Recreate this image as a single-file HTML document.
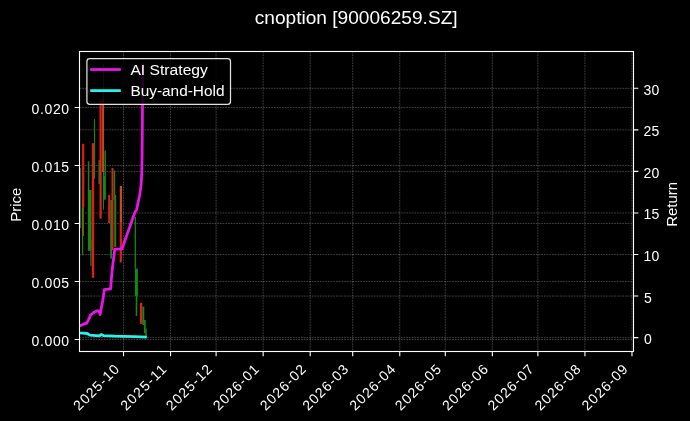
<!DOCTYPE html><html><head><meta charset="utf-8"><title>cnoption [90006259.SZ]</title><style>
html,body{margin:0;padding:0;background:#000;}
body{width:690px;height:421px;overflow:hidden;}
svg{display:block;will-change:transform;}
text{font-family:"Liberation Sans",sans-serif;fill:#fff;}
</style></head><body>
<svg width="690" height="421" viewBox="0 0 690 421">
<rect x="0" y="0" width="690" height="421" fill="#000"/>
<text x="356.2" y="23.7" font-size="17.8" text-anchor="middle" textLength="202.9" lengthAdjust="spacingAndGlyphs">cnoption [90006259.SZ]</text>
<path d="M123.52 51.50V351.50M170.57 51.50V351.50M216.10 51.50V351.50M263.15 51.50V351.50M310.21 51.50V351.50M352.70 51.50V351.50M399.76 51.50V351.50M445.29 51.50V351.50M492.34 51.50V351.50M537.88 51.50V351.50M584.93 51.50V351.50M631.98 51.50V351.50M79.50 339.50H633.50M79.50 281.50H633.50M79.50 223.50H633.50M79.50 165.50H633.50M79.50 107.50H633.50M79.50 337.60H633.50M79.50 296.05H633.50M79.50 254.50H633.50M79.50 212.95H633.50M79.50 171.40H633.50M79.50 129.85H633.50M79.50 88.30H633.50" fill="none" stroke="#fff" stroke-opacity="0.3" stroke-width="0.8" stroke-dasharray="1.8 0.9"/>
<rect x="80.05" y="168.00" width="1.10" height="60.00" fill="#127012"/>
<rect x="82.00" y="200.00" width="1.20" height="55.30" fill="#168716"/>
<rect x="82.10" y="143.80" width="2.20" height="63.90" fill="#e01c1c"/>
<rect x="82.20" y="207.70" width="1.60" height="28.30" fill="#7a6a14"/>
<rect x="87.85" y="161.40" width="1.50" height="38.60" fill="#168716"/>
<rect x="87.90" y="190.00" width="3.60" height="60.80" fill="#168716"/>
<rect x="90.30" y="240.00" width="1.20" height="26.20" fill="#168716"/>
<rect x="91.80" y="143.20" width="2.40" height="134.60" fill="#e01c1c"/>
<rect x="93.95" y="119.10" width="1.10" height="59.70" fill="#168716"/>
<rect x="98.45" y="160.20" width="1.50" height="23.80" fill="#168716"/>
<rect x="102.95" y="64.00" width="1.10" height="145.70" fill="#168716"/>
<rect x="99.50" y="99.00" width="2.20" height="119.60" fill="#e01c1c"/>
<rect x="102.10" y="99.00" width="1.80" height="73.00" fill="#c84a1c"/>
<rect x="104.45" y="150.50" width="1.50" height="25.50" fill="#168716"/>
<rect x="102.90" y="176.00" width="3.00" height="23.70" fill="#168716"/>
<rect x="108.20" y="195.00" width="1.80" height="28.00" fill="#e01c1c"/>
<rect x="110.20" y="200.00" width="1.80" height="58.50" fill="#168716"/>
<rect x="111.50" y="168.00" width="2.00" height="82.00" fill="#e01c1c"/>
<rect x="113.65" y="170.50" width="1.50" height="29.50" fill="#168716"/>
<rect x="114.20" y="195.00" width="2.00" height="52.00" fill="#168716"/>
<rect x="119.80" y="185.90" width="2.20" height="36.10" fill="#c84a1c"/>
<rect x="119.70" y="222.00" width="2.20" height="40.40" fill="#e01c1c"/>
<rect x="134.65" y="217.00" width="1.30" height="51.60" fill="#168716"/>
<rect x="134.90" y="268.60" width="3.00" height="27.40" fill="#168716"/>
<rect x="135.70" y="296.00" width="1.60" height="20.00" fill="#168716"/>
<rect x="139.90" y="302.80" width="2.40" height="21.10" fill="#e01c1c"/>
<rect x="142.30" y="306.60" width="2.00" height="18.40" fill="#168716"/>
<rect x="143.90" y="320.00" width="1.80" height="13.00" fill="#168716"/>
<rect x="145.25" y="328.50" width="1.50" height="8.00" fill="#168716"/>
<g clip-path="url(#axclip)">
<polyline points="79.50,332.80 80.00,332.90 87.30,333.50 89.90,335.10 99.50,335.80 101.10,334.50 103.40,335.60 115.20,336.20 123.20,336.40 135.00,336.70 145.50,337.00" fill="none" stroke="#28f0ea" stroke-width="2.78" stroke-linejoin="round" stroke-linecap="square"/>
<polyline points="79.50,326.00 80.30,325.70 82.80,324.40 86.70,323.10 88.60,319.60 90.50,315.10 93.70,312.50 97.60,310.60 98.90,311.30 100.20,314.50 101.10,309.30 102.70,301.00 104.30,289.60 110.60,288.90 111.60,276.00 112.60,266.50 114.80,249.10 122.00,248.80 134.60,213.10 136.70,209.30 138.00,202.80 139.80,194.50 141.10,185.00 141.50,178.00 141.80,170.00 142.10,155.00 142.50,105.00 142.80,65.00" fill="none" stroke="#e814e8" stroke-width="2.78" stroke-linejoin="round" stroke-linecap="square"/>
</g>
<defs><clipPath id="axclip"><rect x="79.50" y="51.50" width="554.00" height="300.00"/></clipPath></defs>
<rect x="79.50" y="51.50" width="554.00" height="300.00" fill="none" stroke="#fff" stroke-width="1.11"/>
<path d="M123.52 351.50V356.36M170.57 351.50V356.36M216.10 351.50V356.36M263.15 351.50V356.36M310.21 351.50V356.36M352.70 351.50V356.36M399.76 351.50V356.36M445.29 351.50V356.36M492.34 351.50V356.36M537.88 351.50V356.36M584.93 351.50V356.36M631.98 351.50V356.36M74.64 339.50H79.50M74.64 281.50H79.50M74.64 223.50H79.50M74.64 165.50H79.50M74.64 107.50H79.50M633.50 337.60H638.36M633.50 296.05H638.36M633.50 254.50H638.36M633.50 212.95H638.36M633.50 171.40H638.36M633.50 129.85H638.36M633.50 88.30H638.36" fill="none" stroke="#fff" stroke-width="1.11"/>
<text x="69.1" y="345.95" font-size="14.0" text-anchor="end" textLength="37.56" lengthAdjust="spacing">0.000</text>
<text x="69.1" y="287.95" font-size="14.0" text-anchor="end" textLength="37.56" lengthAdjust="spacing">0.005</text>
<text x="69.1" y="229.95" font-size="14.0" text-anchor="end" textLength="37.56" lengthAdjust="spacing">0.010</text>
<text x="69.1" y="171.95" font-size="14.0" text-anchor="end" textLength="37.56" lengthAdjust="spacing">0.015</text>
<text x="69.1" y="113.95" font-size="14.0" text-anchor="end" textLength="37.56" lengthAdjust="spacing">0.020</text>
<text x="644.0" y="344.05" font-size="14.0">0</text>
<text x="644.0" y="302.50" font-size="14.0">5</text>
<text x="643.5" y="260.95" font-size="14.0" textLength="15.87" lengthAdjust="spacing">10</text>
<text x="643.5" y="219.40" font-size="14.0" textLength="15.87" lengthAdjust="spacing">15</text>
<text x="643.5" y="177.85" font-size="14.0" textLength="15.87" lengthAdjust="spacing">20</text>
<text x="643.5" y="136.30" font-size="14.0" textLength="15.87" lengthAdjust="spacing">25</text>
<text x="643.5" y="94.75" font-size="14.0" textLength="15.87" lengthAdjust="spacing">30</text>
<text transform="translate(120.12 370.3) rotate(-45)" font-size="14.0" text-anchor="end" textLength="58.03" lengthAdjust="spacing">2025-10</text>
<text transform="translate(167.17 370.3) rotate(-45)" font-size="14.0" text-anchor="end" textLength="58.03" lengthAdjust="spacing">2025-11</text>
<text transform="translate(212.70 370.3) rotate(-45)" font-size="14.0" text-anchor="end" textLength="58.03" lengthAdjust="spacing">2025-12</text>
<text transform="translate(259.75 370.3) rotate(-45)" font-size="14.0" text-anchor="end" textLength="58.03" lengthAdjust="spacing">2026-01</text>
<text transform="translate(306.81 370.3) rotate(-45)" font-size="14.0" text-anchor="end" textLength="58.03" lengthAdjust="spacing">2026-02</text>
<text transform="translate(349.30 370.3) rotate(-45)" font-size="14.0" text-anchor="end" textLength="58.03" lengthAdjust="spacing">2026-03</text>
<text transform="translate(396.36 370.3) rotate(-45)" font-size="14.0" text-anchor="end" textLength="58.03" lengthAdjust="spacing">2026-04</text>
<text transform="translate(441.89 370.3) rotate(-45)" font-size="14.0" text-anchor="end" textLength="58.03" lengthAdjust="spacing">2026-05</text>
<text transform="translate(488.94 370.3) rotate(-45)" font-size="14.0" text-anchor="end" textLength="58.03" lengthAdjust="spacing">2026-06</text>
<text transform="translate(534.48 370.3) rotate(-45)" font-size="14.0" text-anchor="end" textLength="58.03" lengthAdjust="spacing">2026-07</text>
<text transform="translate(581.53 370.3) rotate(-45)" font-size="14.0" text-anchor="end" textLength="58.03" lengthAdjust="spacing">2026-08</text>
<text transform="translate(628.58 370.3) rotate(-45)" font-size="14.0" text-anchor="end" textLength="58.03" lengthAdjust="spacing">2026-09</text>
<text transform="translate(20.7 204.7) rotate(-90)" font-size="13.889" text-anchor="middle" textLength="33.9" lengthAdjust="spacingAndGlyphs">Price</text>
<text transform="translate(676.9 204.3) rotate(-90)" font-size="13.889" text-anchor="middle" textLength="45.0" lengthAdjust="spacingAndGlyphs">Return</text>
<rect x="86.9" y="58.7" width="143.6" height="45.6" rx="2.78" ry="2.78" fill="#000" fill-opacity="0.85" stroke="#e0e0e0" stroke-opacity="1" stroke-width="1.25"/>
<path d="M91.6 69.5H119.4" stroke="#e814e8" stroke-width="2.78" stroke-linecap="square"/>
<path d="M91.6 90.6H119.4" stroke="#28f0ea" stroke-width="2.78" stroke-linecap="square"/>
<text x="130.4" y="75.2" font-size="13.889" textLength="77.5" lengthAdjust="spacingAndGlyphs">AI Strategy</text>
<text x="130.4" y="95.5" font-size="13.889" textLength="94.1" lengthAdjust="spacingAndGlyphs">Buy-and-Hold</text>
</svg></body></html>
